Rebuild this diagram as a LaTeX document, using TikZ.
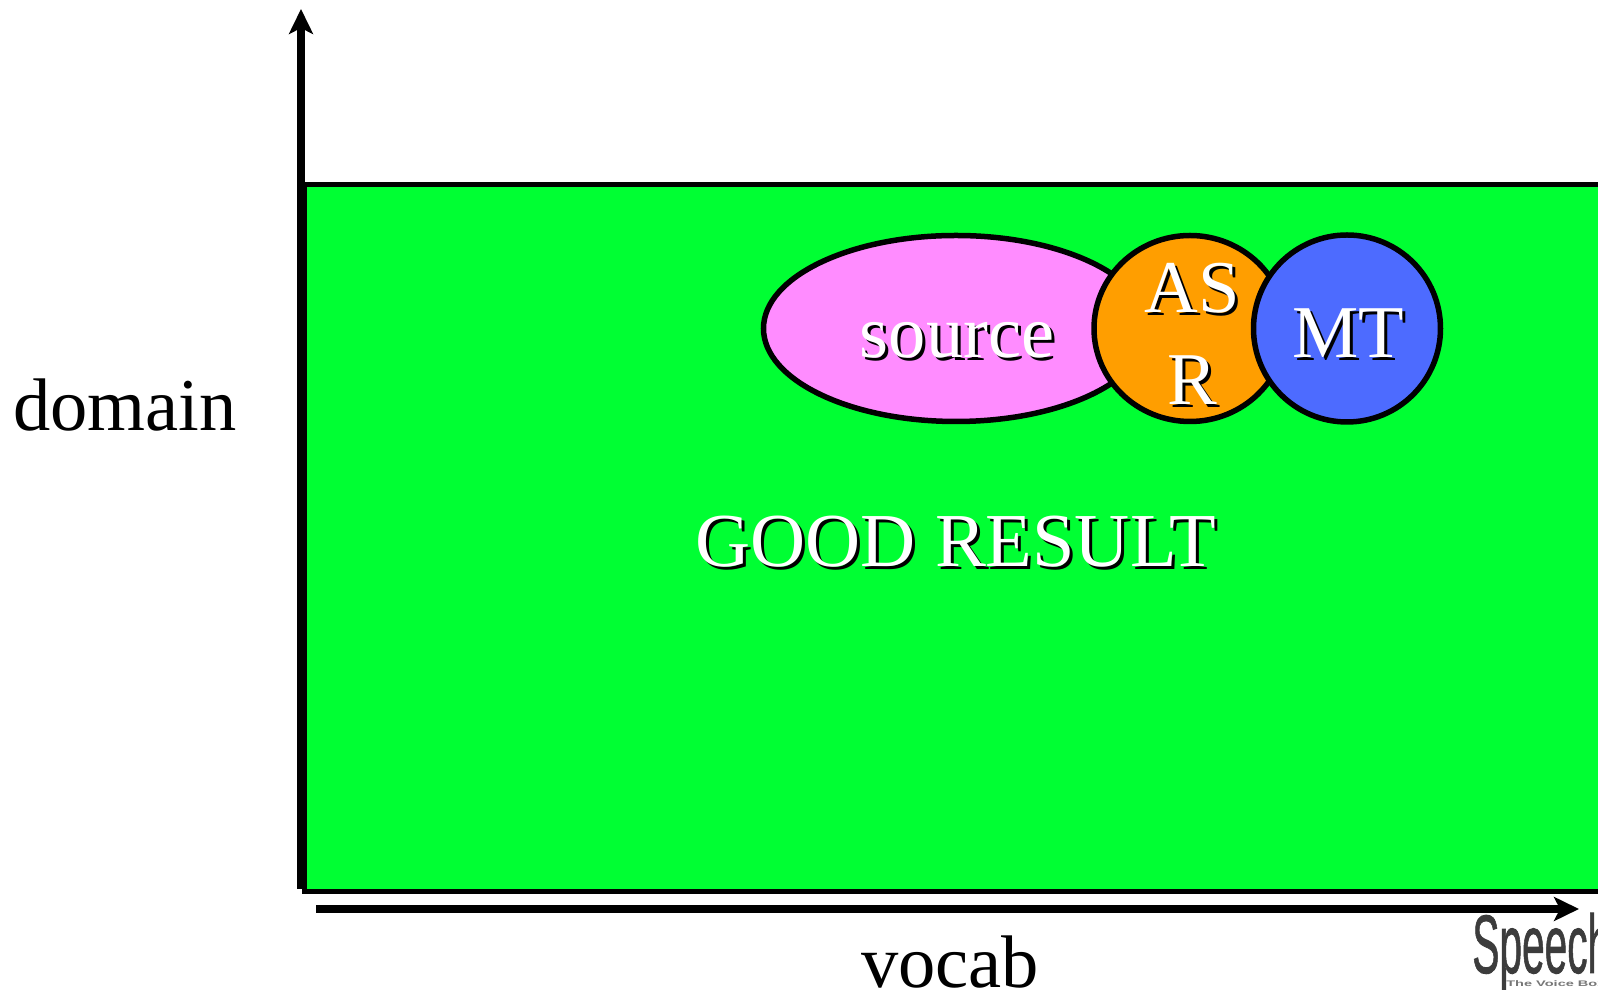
\documentclass[tikz,border=0pt]{standalone}
\usepackage{fontspec}
\setmainfont{Liberation Serif}
\newfontfamily\logofont[FakeBold=1.2]{Liberation Sans}
\newfontfamily\sloganfont{Liberation Sans}
\usetikzlibrary{arrows.meta,shapes.geometric}
\definecolor{fieldgreen}{RGB}{0,255,51}
\definecolor{sourcepink}{RGB}{255,140,255}
\definecolor{asrorange}{RGB}{255,158,0}
\definecolor{mtblue}{RGB}{77,107,255}
\definecolor{logogrey}{RGB}{60,60,60}
\newcommand{\shadowtext}[1]{\rlap{\kern0.03cm\raisebox{-0.03cm}{\color{black}#1}}{\color{white}#1}}
\tikzset{
	bigtext/.style={font=\fontsize{21.2pt}{26pt}\selectfont, inner sep=0pt, anchor=base},
	blob/.style={draw=black, line width=0.055cm, inner sep=0pt, outer sep=0pt},
	axisline/.style={line width=0.08cm, -{Stealth[length=0.25cm, width=0.24cm, inset=0.06cm]}}
}
\begin{document}
\begin{tikzpicture}
	\path[use as bounding box, clip](0, 0) rectangle (15.98, 9.9);
	\fill[white](0, 0) rectangle (15.98, 9.9);
	\draw[line width=0.05cm, fill=fieldgreen](3.045, 0.985) rectangle (16.5, 8.055);%Feld
	\coordinate (yfoot) at (3.01, 1.01);
	\coordinate (ytip) at (3.01, 9.81);
	\coordinate (xfoot) at (3.16, 0.81);
	\coordinate (xtip) at (15.79, 0.81);
	\draw[axisline](yfoot) -- (ytip);%Achse links
	\draw[axisline](xfoot) -- (xtip);%Achse unten
	\node[blob, ellipse, fill=sourcepink, minimum width=3.85cm, minimum height=1.86cm] (source) at (9.56, 6.615) {};
	\node[blob, ellipse, fill=asrorange, minimum width=1.92cm, minimum height=1.86cm] (asr) at (11.9, 6.615) {};
	\node[blob, circle, fill=mtblue, minimum size=1.87cm] (mt) at (13.47, 6.615) {};
	\node[bigtext] (sourcetext) at (9.57, 6.324) {\shadowtext{source}};
	\node[bigtext] (astext) at (11.92, 6.77) {\shadowtext{AS}};
	\node[bigtext] (rtext) at (11.92, 5.855) {\shadowtext{R}};
	\node[bigtext] (mttext) at (13.48, 6.324) {\shadowtext{MT}};
	\node[bigtext, font=\fontsize{21.7pt}{26pt}\selectfont] (result) at (9.56, 4.235) {\shadowtext{GOOD RESULT}};
	\node[bigtext] (domain) at (1.25, 5.59) {domain};
	\node[bigtext] (vocab) at (9.5, 0.02) {vocab};
	\node[inner sep=0pt, anchor=base west, xscale=0.49, text=logogrey, font=\logofont\fontsize{23.6pt}{26pt}\selectfont] (logo) at (14.72, 0.17) {Speech};
	\node[inner sep=0pt, anchor=base west, xscale=1.8, text=logogrey!70, font=\sloganfont\bfseries\fontsize{2.3pt}{3pt}\selectfont] (slogan) at (15.05, 0.03) {The Voice Box};
\end{tikzpicture}
\end{document}
